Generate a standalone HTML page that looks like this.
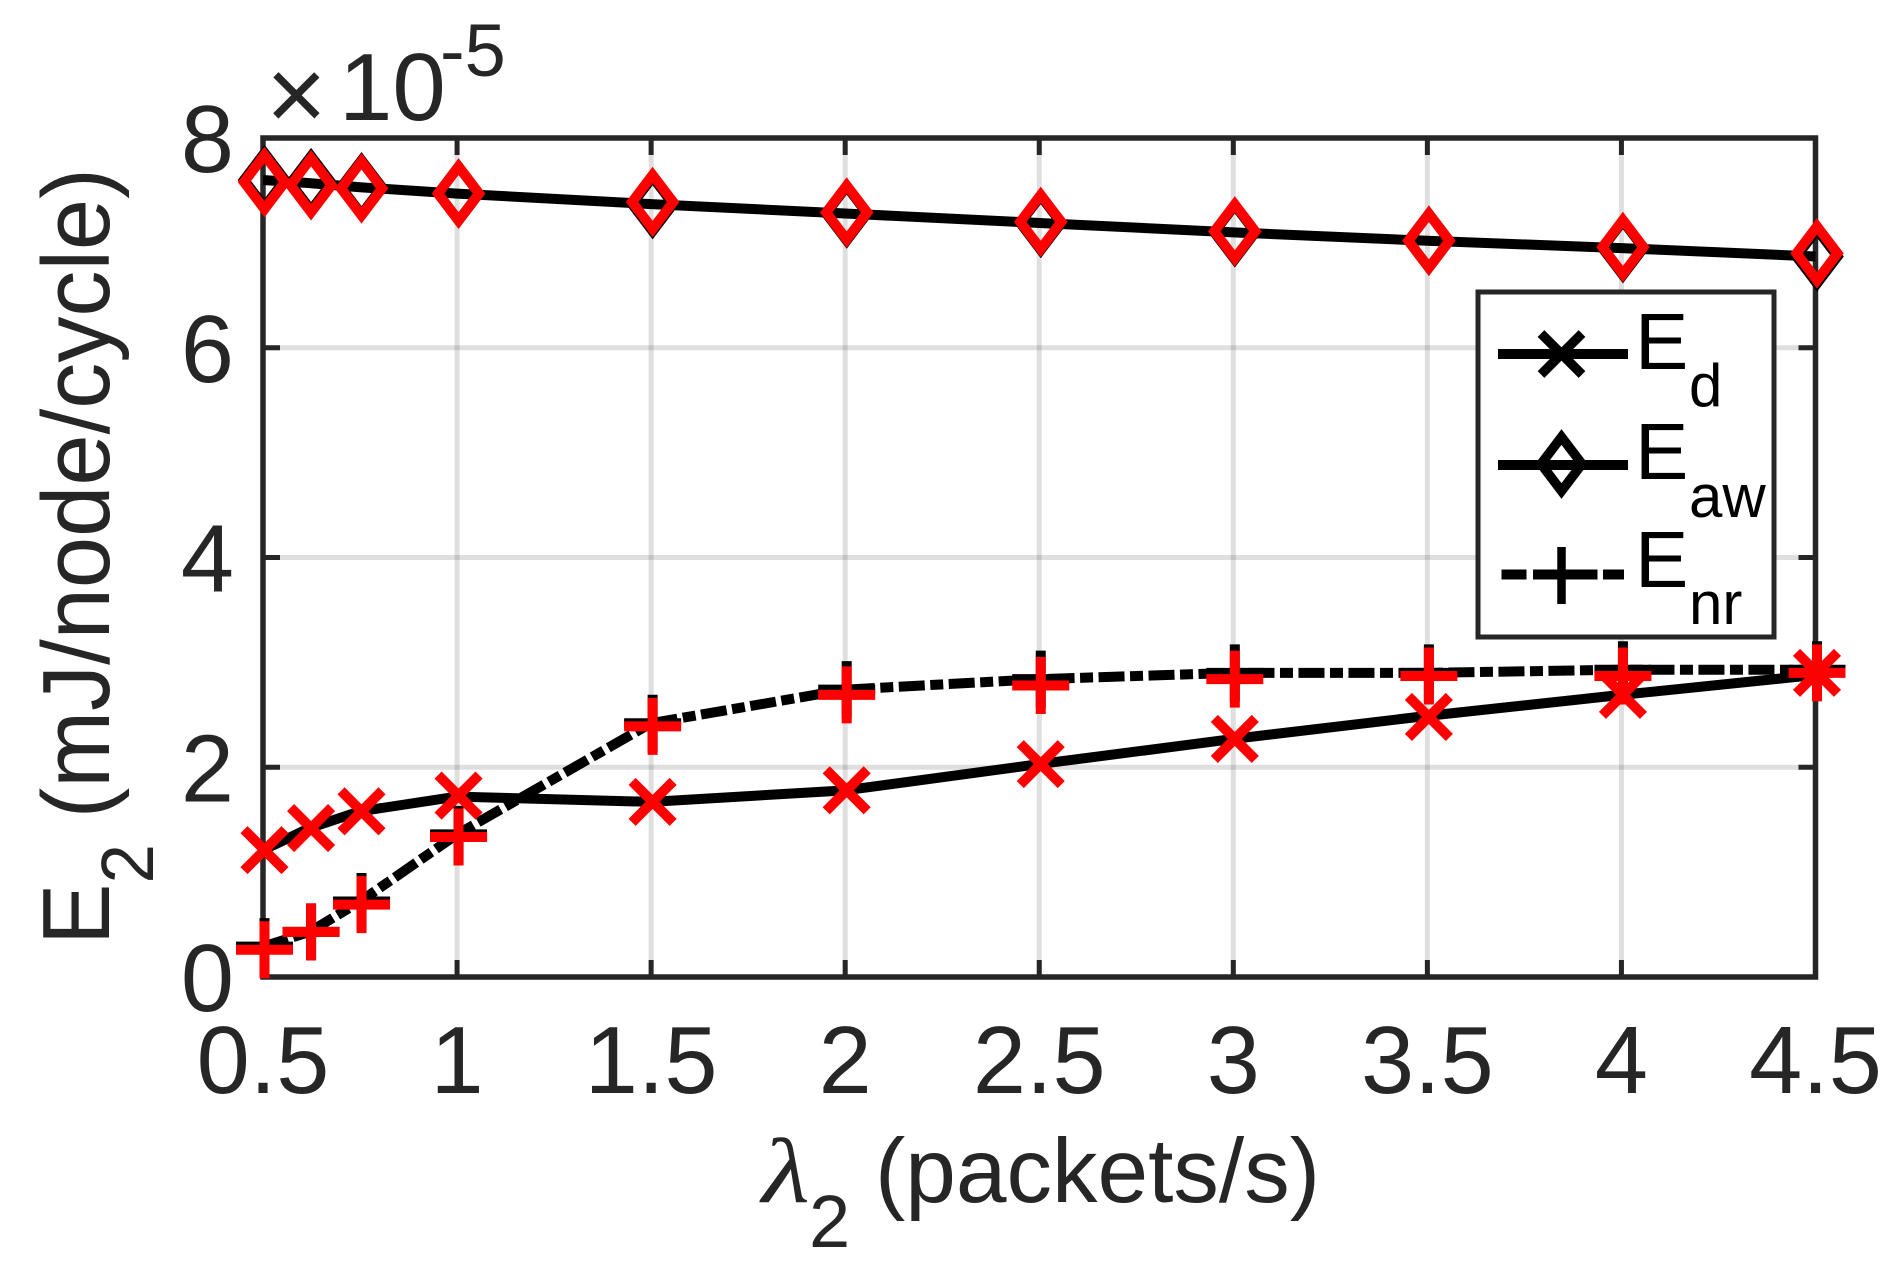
<!DOCTYPE html>
<html lang="en">
<head>
<meta charset="utf-8">
<title>E2 versus lambda2 chart</title>
<style>
html,body{margin:0;padding:0;background:#fff;}
#chart{display:block;width:1902px;height:1261px;font-family:"Liberation Sans",sans-serif;}
</style>
</head>
<body>
<svg id="chart" xmlns="http://www.w3.org/2000/svg" width="1902" height="1261" viewBox="0 0 1902 1261">
  <rect x="0" y="0" width="1902" height="1261" fill="#fff"/>
  <g id="grid"></g>
  <g id="axes"></g>
  <g id="series"></g>
  <text x="266" y="130" font-size="104" fill="#262626">×</text>
  <text x="339" y="120" font-size="96" fill="#262626">10</text>
  <text x="440" y="76" font-size="74" fill="#262626">-5</text>
  <text transform="translate(109,945) rotate(-90) scale(0.96,1)" font-size="96" fill="#262626">E<tspan font-size="74" dy="44">2</tspan><tspan dy="-44"> (mJ/node/cycle)</tspan></text>
  <text transform="translate(762,1202) scale(1.2,1)" font-size="92" font-style="italic" font-family="'Liberation Serif',serif" fill="#262626">λ</text>
  <text x="809" y="1247" font-size="74" fill="#262626">2</text>
  <text x="875" y="1202" font-size="91" fill="#262626">(packets/s)</text>
  <g id="legend">
    <rect x="1478" y="292" width="296" height="345" fill="#fff" stroke="#262626" stroke-width="5"/>
    <g>
      <line x1="1498" y1="354" x2="1628" y2="354" stroke="#000" stroke-width="10"/>
      <path d="M1541 333.500L1582 374.500M1582 333.500L1541 374.500" stroke="#000" stroke-width="9.500" fill="none"/>
      <text x="1635" y="369" font-size="80" fill="#000">E</text>
      <text x="1689" y="406" font-size="60" fill="#000">d</text>
    </g>
    <g>
      <line x1="1498" y1="465" x2="1628" y2="465" stroke="#000" stroke-width="10"/>
      <path d="M1561.5 437L1582 464L1561.5 491L1541 464Z" stroke="#000" stroke-width="9.500" fill="none" stroke-miterlimit="10"/>
      <text x="1635" y="479" font-size="80" fill="#000">E</text>
      <text x="1689" y="517" font-size="60" fill="#000">aw</text>
    </g>
    <g>
      <line x1="1501.500" y1="574.500" x2="1624.500" y2="574.500" stroke="#000" stroke-width="10" stroke-dasharray="25 6.500 64.500 5.500 21"/>
      <path d="M1561.500 547V604" stroke="#000" stroke-width="8.500" fill="none"/>
      <text x="1635" y="587" font-size="80" fill="#000">E</text>
      <text x="1689" y="624" font-size="60" fill="#000">nr</text>
    </g>
  </g>
</svg>
<script>
// Data arrays
const xValues = [0.5, 0.62, 0.75, 1, 1.5, 2, 2.5, 3, 3.5, 4, 4.5];
const edLine = [1.21, 1.42, 1.58, 1.72, 1.67, 1.78, 2.03, 2.27, 2.49, 2.69, 2.88];
const eawLine = [7.60, 7.57, 7.53, 7.47, 7.37, 7.28, 7.19, 7.10, 7.02, 6.95, 6.87];
const enrLine = [0.29, 0.43, 0.72, 1.36, 2.42, 2.74, 2.84, 2.90, 2.90, 2.93, 2.93];
const edMarkers = [1.21, 1.42, 1.58, 1.73, 1.67, 1.78, 2.03, 2.27, 2.48, 2.69, 2.90];
const eawMarkers = [7.58, 7.55, 7.52, 7.47, 7.39, 7.29, 7.20, 7.11, 7.02, 6.96, 6.90];
const enrMarkers = [0.26, 0.43, 0.69, 1.335, 2.39, 2.69, 2.78, 2.84, 2.87, 2.87, 2.90];
const xTicks = [0.5, 1, 1.5, 2, 2.5, 3, 3.5, 4, 4.5];
const xTickLabels = ['0.5', '1', '1.5', '2', '2.5', '3', '3.5', '4', '4.5'];
const yTicks = [0, 2, 4, 6, 8];
const yTickLabels = ['0', '2', '4', '6', '8'];

// Axis functions
const PLOT_LEFT = 263, PLOT_RIGHT = 1815.5, PLOT_TOP = 138, PLOT_BOTTOM = 977;
const xDomain = [0.5, 4.5], yDomain = [0, 8];
function xAxis(v) { return PLOT_LEFT + (v - xDomain[0]) / (xDomain[1] - xDomain[0]) * (PLOT_RIGHT - PLOT_LEFT); }
function yAxis(v) { return PLOT_BOTTOM - (v - yDomain[0]) / (yDomain[1] - yDomain[0]) * (PLOT_BOTTOM - PLOT_TOP); }

const SVG_NS = 'http://www.w3.org/2000/svg';
const MARK_SHIFT = 1.5;
const gridLayer = document.getElementById('grid');
const axesLayer = document.getElementById('axes');
const seriesLayer = document.getElementById('series');

function makeLine(parent, name, x1, y1, x2, y2, color, width, opacity) {
  const el = document.createElementNS(SVG_NS, 'line');
  
  
  el.setAttribute('x1', x1);
  el.setAttribute('y1', y1);
  el.setAttribute('x2', x2);
  el.setAttribute('y2', y2);
  el.setAttribute('stroke', color);
  el.setAttribute('stroke-width', width);
  if (opacity !== undefined) el.setAttribute('stroke-opacity', opacity);
  parent.appendChild(el);
}

function makeLabel(parent, name, x, y, anchor, content) {
  const el = document.createElementNS(SVG_NS, 'text');
  
  
  el.setAttribute('x', x);
  el.setAttribute('y', y);
  el.setAttribute('text-anchor', anchor);
  el.setAttribute('font-size', '95.5');
  el.setAttribute('fill', '#262626');
  el.textContent = content;
  parent.appendChild(el);
}

function makeSeriesLine(name, values, dash) {
  const el = document.createElementNS(SVG_NS, 'polyline');
  
  
  el.setAttribute('points', values.map(function (v, i) { return xAxis(xValues[i]) + ',' + yAxis(v); }).join(' '));
  el.setAttribute('fill', 'none');
  el.setAttribute('stroke', '#000');
  el.setAttribute('stroke-width', '10');
  el.setAttribute('stroke-linejoin', 'round');
  if (dash) el.setAttribute('stroke-dasharray', dash);
  seriesLayer.appendChild(el);
}

function markerPath(kind, cx, cy) {
  if (kind === 'x') {
    return 'M' + (cx - 20.5) + ' ' + (cy - 20.5) + 'L' + (cx + 20.5) + ' ' + (cy + 20.5) + 'M' + (cx + 20.5) + ' ' + (cy - 20.5) + 'L' + (cx - 20.5) + ' ' + (cy + 20.5);
  }
  if (kind === 'plus') {
    return 'M' + (cx - 28.5) + ' ' + cy + 'H' + (cx + 28.5) + 'M' + cx + ' ' + (cy - 28.5) + 'V' + (cy + 28.5);
  }
  return 'M' + cx + ' ' + (cy - 27) + 'L' + (cx + 20.5) + ' ' + cy + 'L' + cx + ' ' + (cy + 27) + 'L' + (cx - 20.5) + ' ' + cy + 'Z';
}

function makeMarkers(name, kind, values, color) {
  values.forEach(function (v, i) {
    const el = document.createElementNS(SVG_NS, 'path');
    
    
    el.setAttribute('d', markerPath(kind, xAxis(xValues[i]) + MARK_SHIFT, yAxis(v)));
    el.setAttribute('fill', 'none');
    el.setAttribute('stroke', color);
    el.setAttribute('stroke-width', '10');
    el.setAttribute('stroke-miterlimit', '10');
    seriesLayer.appendChild(el);
  });
}

// Grid
xTicks.forEach(function (t) {
  if (t > xDomain[0] && t < xDomain[1]) makeLine(gridLayer, 'vertical-grid-line', xAxis(t), PLOT_TOP, xAxis(t), PLOT_BOTTOM, '#262626', 5, 0.15);
});
yTicks.forEach(function (t) {
  if (t > yDomain[0] && t < yDomain[1]) makeLine(gridLayer, 'horizontal-grid-line', PLOT_LEFT, yAxis(t), PLOT_RIGHT, yAxis(t), '#262626', 5, 0.15);
});

// Ticks and tick labels
xTicks.forEach(function (t, i) {
  makeLine(axesLayer, 'x-tick-bottom', xAxis(t), PLOT_BOTTOM, xAxis(t), PLOT_BOTTOM - 17, '#262626', 5);
  makeLine(axesLayer, 'x-tick-top', xAxis(t), PLOT_TOP, xAxis(t), PLOT_TOP + 17, '#262626', 5);
  makeLabel(axesLayer, 'x-tick-label', xAxis(t), 1093, 'middle', xTickLabels[i]);
});
yTicks.forEach(function (t, i) {
  makeLine(axesLayer, 'y-tick-left', PLOT_LEFT, yAxis(t), PLOT_LEFT + 17, yAxis(t), '#262626', 5);
  makeLine(axesLayer, 'y-tick-right', PLOT_RIGHT, yAxis(t), PLOT_RIGHT - 17, yAxis(t), '#262626', 5);
  makeLabel(axesLayer, 'y-tick-label', 234, yAxis(t) + 34, 'end', yTickLabels[i]);
});

// Plot frame
const frame = document.createElementNS(SVG_NS, 'rect');


frame.setAttribute('x', PLOT_LEFT);
frame.setAttribute('y', PLOT_TOP);
frame.setAttribute('width', PLOT_RIGHT - PLOT_LEFT);
frame.setAttribute('height', PLOT_BOTTOM - PLOT_TOP);
frame.setAttribute('fill', 'none');
frame.setAttribute('stroke', '#262626');
frame.setAttribute('stroke-width', '5.5');
axesLayer.appendChild(frame);

// Series
makeSeriesLine('line-ed', edLine);
makeSeriesLine('line-eaw', eawLine);
makeSeriesLine('line-enr', enrLine, '26 5.5 13 5.5');
makeMarkers('marker-eaw-black', 'diamond', eawLine, '#000');
makeMarkers('marker-enr-black', 'plus', enrLine, '#000');
makeMarkers('marker-ed-red', 'x', edMarkers, '#f00');
makeMarkers('marker-eaw-red', 'diamond', eawMarkers, '#f00');
makeMarkers('marker-enr-red', 'plus', enrMarkers, '#f00');
</script>
</body>
</html>
